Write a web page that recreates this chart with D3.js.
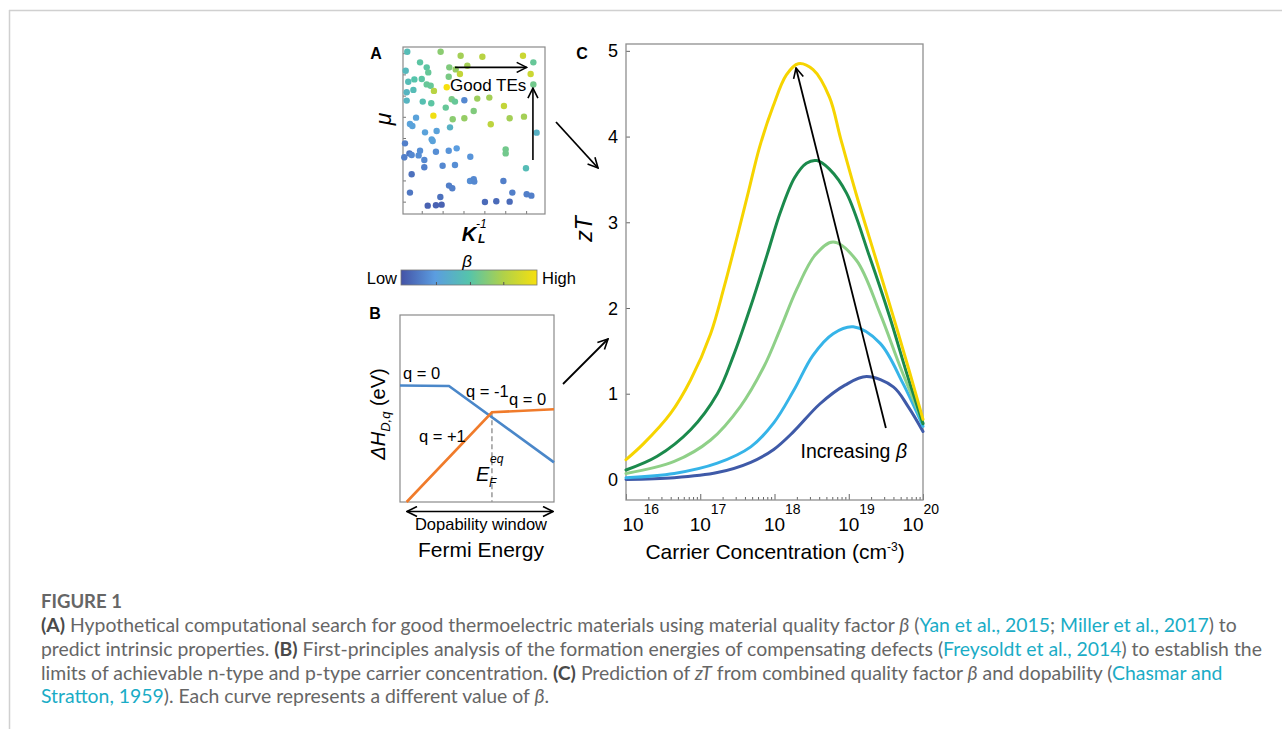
<!DOCTYPE html>
<html>
<head>
<meta charset="utf-8">
<script src="https://cdn.jsdelivr.net/npm/d3@7"></script>
<style>
  body { margin: 0; background: #fff; }
  svg { display: block; font-family: "Liberation Sans", Arial, sans-serif; }
  .cap { font-family: Lato, "Open Sans", sans-serif; fill: #666; }
</style>
</head>
<body>
<svg id="fig" width="1282" height="729"></svg>
<script>
// ---------- panel A : hypothetical screening (axes normalised 0..1, beta 0..1)
const dotK    = [0.030,0.265,0.406,0.559,0.845,0.918,0.120,0.019,0.167,0.178,0.326,0.453,0.371,0.401,0.899,0.918,0.037,0.080,0.132,0.322,0.167,0.195,0.073,0.026,0.218,0.308,0.026,0.139,0.199,0.343,0.366,0.432,0.523,0.608,0.711,0.301,0.498,0.214,0.092,0.350,0.432,0.618,0.751,0.852,0.049,0.066,0.237,0.331,0.941,0.155,0.202,0.209,0.014,0.378,0.723,0.723,0.322,0.232,0.045,0.061,0.120,0.110,0.009,0.150,0.474,0.279,0.366,0.150,0.866,0.061,0.472,0.502,0.498,0.707,0.324,0.347,0.049,0.871,0.904,0.770,0.263,0.174,0.232,0.272,0.577,0.657,0.751];
const dotMu   = [0.972,0.972,0.948,0.942,0.948,0.908,0.908,0.858,0.878,0.848,0.878,0.888,0.866,0.838,0.838,0.776,0.792,0.806,0.808,0.822,0.776,0.768,0.743,0.729,0.737,0.759,0.679,0.673,0.663,0.687,0.673,0.681,0.691,0.697,0.647,0.637,0.617,0.589,0.577,0.567,0.573,0.537,0.573,0.583,0.539,0.527,0.497,0.519,0.487,0.489,0.447,0.437,0.423,0.393,0.387,0.363,0.379,0.373,0.363,0.353,0.379,0.351,0.340,0.323,0.343,0.289,0.293,0.280,0.274,0.238,0.198,0.194,0.208,0.198,0.170,0.154,0.128,0.118,0.110,0.128,0.102,0.050,0.052,0.056,0.072,0.076,0.074];
const dotBeta = [0.45,0.65,0.72,0.78,0.85,0.55,0.52,0.42,0.52,0.55,0.62,0.72,0.68,0.82,0.85,0.58,0.45,0.50,0.52,0.60,0.55,0.55,0.45,0.40,0.78,1.00,0.40,0.47,0.52,0.60,0.55,0.18,0.70,0.72,0.82,0.55,0.62,0.98,0.28,0.65,0.68,0.80,0.72,0.72,0.28,0.28,0.28,0.38,0.38,0.28,0.28,0.28,0.15,0.25,0.58,0.58,0.22,0.20,0.12,0.18,0.20,0.20,0.15,0.18,0.22,0.18,0.20,0.15,0.45,0.10,0.20,0.18,0.18,0.15,0.15,0.15,0.12,0.15,0.15,0.15,0.10,0.05,0.05,0.05,0.08,0.08,0.08];
const aTicksX = [0.132,0.279,0.426,0.573,0.720,0.867];
const aTicksY = [0.074,0.201,0.328,0.455,0.582,0.709,0.836,0.963];
const betaStops  = [0, 0.25, 0.5, 0.75, 1];
const betaColors = ["#4453a6", "#5b9de0", "#55c4ab", "#afd14a", "#f6e00e"];
const cbarTicks  = [0.257, 0.507, 0.752];

// ---------- panel B : defect formation energies (normalised)
const blueE   = [0, 0.318, 1];
const blueH   = [0.623, 0.620, 0.212];
const orangeE = [0.043, 0.597, 1];
const orangeH = [0, 0.480, 0.496];
const eqE = 0.597, eqH = 0.480;

// ---------- panel C : zT vs carrier concentration (log10 n)
const zTTicks = [0, 1, 2, 3, 4, 5];
const decades = [16, 17, 18, 19, 20];
const yellowLogN = [16.00,16.24,16.60,16.87,17.14,17.32,17.50,17.65,17.80,17.98,18.16,18.32,18.52,18.74,18.89,19.10,19.37,19.60,19.82,20.00];
const yellowZT   = [0.23,0.42,0.77,1.16,1.70,2.24,2.84,3.36,3.88,4.35,4.72,4.85,4.78,4.46,3.98,3.33,2.56,1.90,1.25,0.70];
const dkGreenLogN = [16.00,16.42,16.87,17.23,17.45,17.68,17.90,18.08,18.27,18.43,18.57,18.74,18.97,19.28,19.55,19.78,20.00];
const dkGreenZT   = [0.11,0.27,0.58,1.00,1.45,2.02,2.62,3.12,3.52,3.69,3.72,3.62,3.34,2.60,1.90,1.24,0.65];
const ltGreenLogN = [16.00,16.65,17.14,17.54,17.86,18.08,18.30,18.55,18.79,19.10,19.42,19.69,20.00];
const ltGreenZT   = [0.07,0.21,0.46,0.85,1.32,1.76,2.22,2.62,2.77,2.56,1.94,1.32,0.66];
const cyanLogN = [16.00,16.65,17.23,17.68,17.99,18.26,18.52,18.79,19.06,19.42,19.73,20.00];
const cyanZT   = [0.02,0.07,0.19,0.38,0.66,1.04,1.45,1.70,1.78,1.59,1.12,0.62];
const navyLogN = [16.00,16.65,17.23,17.68,17.99,18.26,18.61,18.95,19.24,19.60,19.80,20.00];
const navyZT   = [0.00,0.02,0.08,0.20,0.35,0.56,0.88,1.10,1.20,1.08,0.85,0.56];
const curveColors = ["#3f5aa8", "#36b4e8", "#8fd088", "#1b8a4c", "#f6d400"];
const incArrow = [[19.50, 0.60], [18.29, 4.80]];
const incLabel = [18.35, 0.25];

// ---------- caption
const capLines = [
  [["(A)","b"],[" Hypothetical computational search for good thermoelectric materials using material quality factor "],["β","i"],[" ("],["Yan et al., 2015","l"],["; "],["Miller et al., 2017","l"],[") to"]],
  [["predict intrinsic properties. "],["(B)","b"],[" First-principles analysis of the formation energies of compensating defects ("],["Freysoldt et al., 2014","l"],[") to establish the"]],
  [["limits of achievable n-type and p-type carrier concentration. "],["(C)","b"],[" Prediction of "],["zT","i"],[" from combined quality factor "],["β","i"],[" and dopability ("],["Chasmar and","l"]],
  [["Stratton, 1959","l"],["). Each curve represents a different value of "],["β","i"],["."]]
];

const svg = d3.select("#fig");

// arrow head
svg.append("defs").append("marker")
  .attr("id", "chev").attr("viewBox", "0 -6 12 12").attr("refX", 11).attr("refY", 0)
  .attr("markerWidth", 12).attr("markerHeight", 12).attr("markerUnits", "userSpaceOnUse").attr("orient", "auto-start-reverse")
  .append("path").attr("d", "M1,-5L11,0L1,5").attr("fill", "none").attr("stroke", "#000").attr("stroke-width", 1.6);

// page frame
svg.append("line").attr("x1", 9).attr("x2", 1282).attr("y1", 10.5).attr("y2", 10.5).attr("stroke", "#d0d0d0").attr("stroke-width", 1.5);
svg.append("line").attr("x1", 9.5).attr("x2", 9.5).attr("y1", 10).attr("y2", 729).attr("stroke", "#d0d0d0").attr("stroke-width", 1.5);

// ================= Panel A
const ax = d3.scaleLinear().domain([0, 1]).range([403, 545]);
const ay = d3.scaleLinear().domain([0, 1]).range([214, 47]);
const betaColor = d3.scaleLinear().domain(betaStops).range(betaColors);
const gA = svg.append("g");

gA.append("g").attr("transform", "translate(0,214)")
  .call(d3.axisBottom(ax).tickValues(aTicksX).tickSize(-3).tickFormat(""))
  .call(g => g.select(".domain").remove())
  .call(g => g.selectAll("line").attr("stroke", "#777"));
gA.append("g").attr("transform", "translate(403,0)")
  .call(d3.axisLeft(ay).tickValues(aTicksY).tickSize(-3).tickFormat(""))
  .call(g => g.select(".domain").remove())
  .call(g => g.selectAll("line").attr("stroke", "#777"));
gA.append("rect").attr("x", 403).attr("y", 47).attr("width", 142).attr("height", 167)
  .attr("fill", "none").attr("stroke", "#8a8a8a").attr("stroke-width", 1.2);

gA.selectAll("circle.dot").data(dotK).join("circle").attr("class", "dot")
  .attr("cx", d => ax(d)).attr("cy", (d, i) => ay(dotMu[i])).attr("r", 3.2)
  .attr("fill", (d, i) => betaColor(dotBeta[i]));

gA.append("line").attr("x1", ax(0.366)).attr("x2", ax(0.871)).attr("y1", ay(0.878)).attr("y2", ay(0.878))
  .attr("stroke", "#000").attr("stroke-width", 1.6).attr("marker-end", "url(#chev)");
gA.append("line").attr("x1", ax(0.915)).attr("x2", ax(0.915)).attr("y1", ay(0.323)).attr("y2", ay(0.754))
  .attr("stroke", "#000").attr("stroke-width", 1.6).attr("marker-end", "url(#chev)");
gA.append("text").attr("x", ax(0.60)).attr("y", ay(0.772) + 6).attr("text-anchor", "middle")
  .attr("font-size", 17).text("Good TEs");

svg.append("text").attr("x", 376).attr("y", 59).attr("text-anchor", "middle").attr("font-weight", "bold").attr("font-size", 16).text("A");
svg.append("text").attr("transform", "translate(391,119) rotate(-90)").attr("text-anchor", "middle")
  .attr("font-size", 23).attr("font-style", "italic").text("μ");
svg.append("text").attr("x", 469).attr("y", 241).attr("text-anchor", "middle")
  .attr("font-size", 20).attr("font-style", "italic").attr("font-weight", "bold").text("K");
svg.append("text").attr("x", 478).attr("y", 243).attr("font-size", 12).attr("font-style", "italic").attr("font-weight", "bold").text("L");
svg.append("text").attr("x", 476).attr("y", 228).attr("font-size", 12).attr("font-style", "italic").text("-1");

// colour bar
const grad = svg.select("defs").append("linearGradient").attr("id", "betaGrad");
grad.selectAll("stop").data(betaStops).join("stop")
  .attr("offset", d => d * 100 + "%").attr("stop-color", (d, i) => betaColors[i]);
const cbx = d3.scaleLinear().domain([0, 1]).range([401, 537]);
svg.append("rect").attr("x", 401).attr("y", 270).attr("width", 136).attr("height", 15)
  .attr("fill", "url(#betaGrad)").attr("stroke", "#777").attr("stroke-width", 0.8);
svg.append("g").attr("transform", "translate(0,285)")
  .call(d3.axisBottom(cbx).tickValues(cbarTicks).tickSize(-3).tickFormat(""))
  .call(g => g.select(".domain").remove())
  .call(g => g.selectAll("line").attr("stroke", "#555"));
svg.append("text").attr("x", 467).attr("y", 267).attr("text-anchor", "middle").attr("font-size", 17).attr("font-style", "italic").text("β");
svg.append("text").attr("x", 397).attr("y", 284).attr("text-anchor", "end").attr("font-size", 16.5).text("Low");
svg.append("text").attr("x", 542).attr("y", 284).attr("font-size", 16.5).text("High");

// ================= Panel B
const bx = d3.scaleLinear().domain([0, 1]).range([400, 554]);
const by = d3.scaleLinear().domain([0, 1]).range([502, 315]);
const gB = svg.append("g");
gB.append("rect").attr("x", 400).attr("y", 315).attr("width", 154).attr("height", 187)
  .attr("fill", "none").attr("stroke", "#8a8a8a").attr("stroke-width", 1.2);
gB.append("line").attr("x1", bx(eqE)).attr("x2", bx(eqE)).attr("y1", by(eqH)).attr("y2", by(0))
  .attr("stroke", "#999").attr("stroke-width", 1.5).attr("stroke-dasharray", "5,3");
const bLine = d3.line().x(d => bx(d[0])).y(d => by(d[1]));
gB.append("path").attr("d", bLine(d3.zip(blueE, blueH))).attr("fill", "none").attr("stroke", "#4a87c9").attr("stroke-width", 2.6);
gB.append("path").attr("d", bLine(d3.zip(orangeE, orangeH))).attr("fill", "none").attr("stroke", "#f07b2b").attr("stroke-width", 2.6);

gB.append("text").attr("x", 403).attr("y", 379).attr("font-size", 16.5).text("q = 0");
gB.append("text").attr("x", 466).attr("y", 397).attr("font-size", 16.5).text("q = -1");
gB.append("text").attr("x", 509).attr("y", 405).attr("font-size", 16.5).text("q = 0");
gB.append("text").attr("x", 419).attr("y", 442).attr("font-size", 16.5).text("q = +1");
gB.append("text").attr("x", 476).attr("y", 481).attr("font-size", 20).attr("font-style", "italic").text("E");
gB.append("text").attr("x", 489).attr("y", 487).attr("font-size", 12).attr("font-style", "italic").text("F");
gB.append("text").attr("x", 490).attr("y", 463).attr("font-size", 12).attr("font-style", "italic").text("eq");

svg.append("line").attr("x1", 407).attr("x2", 553).attr("y1", 511.5).attr("y2", 511.5)
  .attr("stroke", "#000").attr("stroke-width", 1.6)
  .attr("marker-start", "url(#chev)").attr("marker-end", "url(#chev)");
svg.append("text").attr("x", 481).attr("y", 530).attr("text-anchor", "middle").attr("font-size", 16.5).text("Dopability window");
svg.append("text").attr("x", 481).attr("y", 557).attr("text-anchor", "middle").attr("font-size", 21).text("Fermi Energy");
svg.append("text").attr("x", 375).attr("y", 319).attr("text-anchor", "middle").attr("font-weight", "bold").attr("font-size", 16).text("B");
const yB = svg.append("text").attr("transform", "translate(385,414) rotate(-90)").attr("text-anchor", "middle").attr("font-size", 20);
yB.append("tspan").attr("font-style", "italic").text("ΔH");
yB.append("tspan").attr("font-style", "italic").attr("font-size", 13).attr("dy", 5).text("D,q");
yB.append("tspan").attr("dy", -5).text(" (eV)");

// connector arrows
svg.append("line").attr("x1", 556).attr("y1", 122).attr("x2", 598).attr("y2", 168)
  .attr("stroke", "#000").attr("stroke-width", 1.8).attr("marker-end", "url(#chev)");
svg.append("line").attr("x1", 563).attr("y1", 384).attr("x2", 608).attr("y2", 339)
  .attr("stroke", "#000").attr("stroke-width", 1.8).attr("marker-end", "url(#chev)");

// ================= Panel C
const cx = d3.scaleLog().domain([1e16, 1e20]).range([626, 923]);
const cy = d3.scaleLinear().domain([-0.24, 5.08]).range([500, 44]);
const gC = svg.append("g");

const minor = [];
decades.slice(0, -1).forEach(d => { for (let k = 2; k <= 9; k++) minor.push(k * Math.pow(10, d)); });
gC.append("g").attr("transform", "translate(0,500)")
  .call(d3.axisBottom(cx).tickValues(minor).tickSize(-3).tickFormat(""))
  .call(g => g.select(".domain").remove())
  .call(g => g.selectAll("line").attr("stroke", "#666"));
gC.append("g").attr("transform", "translate(0,500)")
  .call(d3.axisBottom(cx).tickValues(decades.map(d => Math.pow(10, d))).tickSize(-6).tickFormat(""))
  .call(g => g.select(".domain").remove())
  .call(g => g.selectAll("line").attr("stroke", "#666"));
gC.append("g").attr("transform", "translate(626,0)")
  .call(d3.axisLeft(cy).tickValues(zTTicks).tickSize(-4).tickFormat(""))
  .call(g => g.select(".domain").remove())
  .call(g => g.selectAll("line").attr("stroke", "#666"));
gC.append("rect").attr("x", 626).attr("y", 44).attr("width", 297).attr("height", 456)
  .attr("fill", "none").attr("stroke", "#8f8f8f").attr("stroke-width", 1.3);

gC.selectAll("text.ytl").data(zTTicks).join("text").attr("class", "ytl")
  .attr("x", 618).attr("y", d => cy(d) + 6.5).attr("text-anchor", "end").attr("font-size", 18).text(d => d);

decades.forEach(d => {
  const px = Math.max(633, Math.min(913, cx(Math.pow(10, d))));
  gC.append("text").attr("x", px).attr("y", 531).attr("text-anchor", "middle").attr("font-size", 19).text("10");
  gC.append("text").attr("x", px + 10.5).attr("y", 514).attr("font-size", 14).text(d);
});

const cLine = d3.line().x(d => cx(Math.pow(10, d[0]))).y(d => cy(d[1])).curve(d3.curveCatmullRom.alpha(0.5));
const curves = [
  d3.zip(navyLogN, navyZT), d3.zip(cyanLogN, cyanZT), d3.zip(ltGreenLogN, ltGreenZT),
  d3.zip(dkGreenLogN, dkGreenZT), d3.zip(yellowLogN, yellowZT)
];
gC.selectAll("path.zt").data(curves).join("path").attr("class", "zt")
  .attr("d", cLine).attr("fill", "none").attr("stroke", (d, i) => curveColors[i])
  .attr("stroke-width", 3).attr("stroke-linecap", "round");

gC.append("line")
  .attr("x1", cx(Math.pow(10, incArrow[0][0]))).attr("y1", cy(incArrow[0][1]))
  .attr("x2", cx(Math.pow(10, incArrow[1][0]))).attr("y2", cy(incArrow[1][1]))
  .attr("stroke", "#000").attr("stroke-width", 1.8).attr("marker-end", "url(#chev)");
const incT = gC.append("text").attr("x", cx(Math.pow(10, incLabel[0]))).attr("y", cy(incLabel[1])).attr("font-size", 19.5);
incT.append("tspan").text("Increasing ");
incT.append("tspan").attr("font-style", "italic").text("β");

svg.append("text").attr("x", 582).attr("y", 59).attr("text-anchor", "middle").attr("font-weight", "bold").attr("font-size", 16).text("C");
svg.append("text").attr("transform", "translate(592,229) rotate(-90)").attr("text-anchor", "middle")
  .attr("font-size", 23).attr("font-style", "italic").text("zT");
const xC = svg.append("text").attr("x", 775).attr("y", 559).attr("text-anchor", "middle").attr("font-size", 21);
xC.append("tspan").text("Carrier Concentration (cm");
xC.append("tspan").attr("font-size", 12).attr("dy", -8).text("-3");
xC.append("tspan").attr("dy", 8).text(")");

// ================= caption
svg.append("text").attr("class", "cap").attr("x", 41).attr("y", 608)
  .attr("font-size", 18.5).attr("font-weight", 700).attr("fill", "#555").text("FIGURE 1");
const capBase = [632, 656, 680, 703];
const capEls = capLines.map((line, li) => {
  const t = svg.append("text").attr("class", "cap").attr("x", 41).attr("y", capBase[li]).attr("font-size", 17);
  line.forEach(([s, st]) => {
    const ts = t.append("tspan").text(s);
    if (st === "b") ts.attr("font-weight", 700).attr("fill", "#4a4a4a");
    if (st === "i") ts.attr("font-style", "italic");
    if (st === "l") ts.attr("fill", "#1aacc6");
  });
  return t;
});
const w2 = capEls[1].node().getComputedTextLength();
const fs = 17 * 1222 / w2;
capEls.forEach(t => t.attr("font-size", fs));
</script>
</body>
</html>
